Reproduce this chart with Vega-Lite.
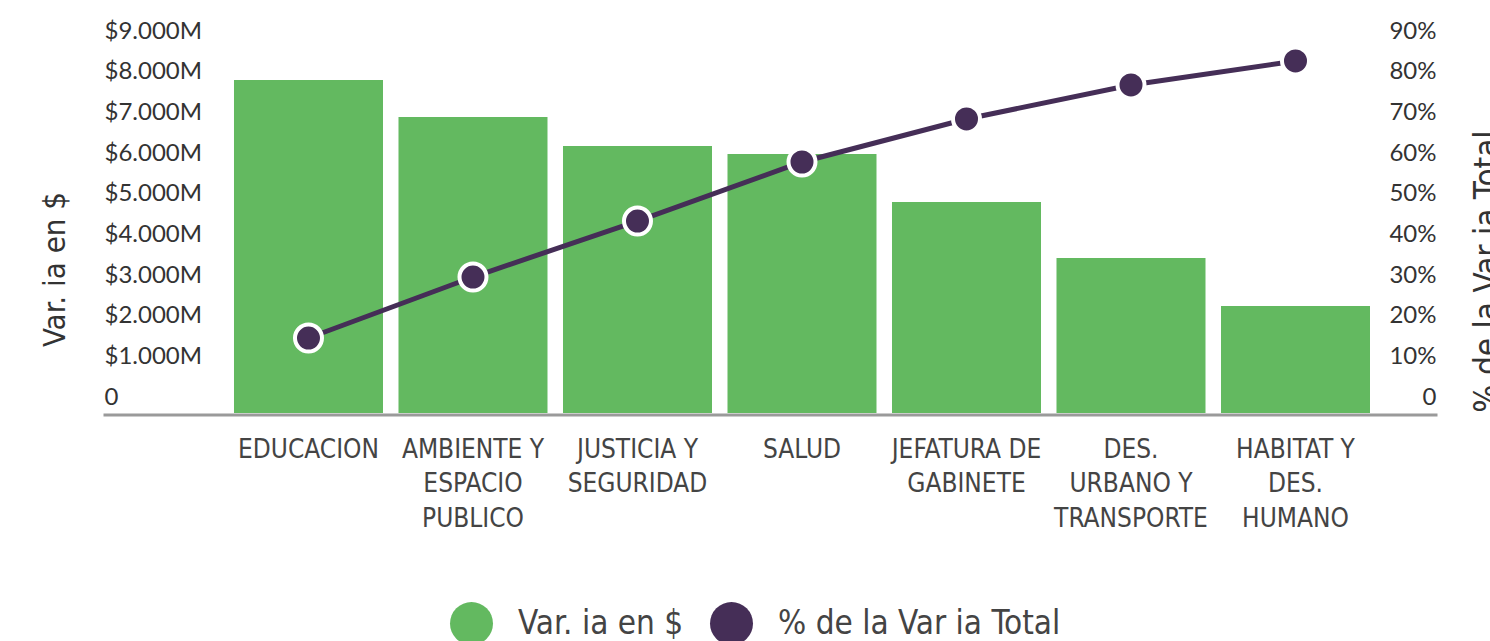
{
  "$schema": "https://vega.github.io/schema/vega-lite/v6.json",
  "width": 1334,
  "height": 366,
  "autosize": {"type": "none"},
  "padding": {"left": 103, "top": 47, "right": 53, "bottom": 228},
  "background": "white",
  "config": {"view": {"stroke": null}, "axis": {"grid": false}},
  "data": {
    "values": [
      {"area": "EDUCACION", "monto": 8188, "acum": 0.1844},
      {"area": "AMBIENTE Y\nESPACIO\nPUBLICO", "monto": 7279, "acum": 0.3344},
      {"area": "JUSTICIA Y\nSEGURIDAD", "monto": 6566, "acum": 0.4721},
      {"area": "SALUD", "monto": 6369, "acum": 0.6172},
      {"area": "JEFATURA DE\nGABINETE", "monto": 5189, "acum": 0.7230},
      {"area": "DES.\nURBANO Y\nTRANSPORTE", "monto": 3811, "acum": 0.8066},
      {"area": "HABITAT Y\nDES.\nHUMANO", "monto": 2631, "acum": 0.8656}
    ]
  },
  "encoding": {
    "x": {
      "field": "area",
      "type": "nominal",
      "sort": null,
      "scale": {"paddingInner": 0.0942, "paddingOuter": 0.6018, "align": 0.6616, "round": false},
      "axis": {
        "title": null,
        "orient": "bottom",
        "ticks": false,
        "tickSize": 0,
        "domain": true,
        "domainColor": "#9a9a9a",
        "domainWidth": 3,
        "offset": 1.5,
        "labelAngle": 0,
        "labelPadding": 42.5,
        "labelBaseline": "alphabetic",
        "labelFont": "DejaVu Sans Condensed",
        "labelFontSize": 26,
        "labelColor": "#444444",
        "labelLineHeight": 34.5,
        "labelLimit": 0,
        "labelExpr": "split(datum.label, '\\n')"
      }
    }
  },
  "layer": [
    {
      "mark": {"type": "bar", "color": "#63B960"},
      "encoding": {
        "y": {
          "field": "monto",
          "type": "quantitative",
          "scale": {"domain": [0, 9000], "nice": false, "zero": true},
          "axis": {
            "orient": "left",
            "title": "Var. ia en $",
            "ticks": false,
            "tickSize": 0,
            "domain": false,
            "values": [0, 1000, 2000, 3000, 4000, 5000, 6000, 7000, 8000, 9000],
            "labelExpr": "datum.value == 0 ? '0' : '$' + replace(format(datum.value, ','), ',', '.') + 'M'",
            "labelAlign": "left",
            "labelPadding": -1,
            "labelBaseline": "alphabetic",
            "labelOffset": -9,
            "labelFont": "Lato",
            "labelFontSize": 24,
            "labelColor": "#333333",
            "labelOverlap": false,
            "titleFont": "DejaVu Sans Condensed",
            "titleFontSize": 31,
            "titleFontWeight": "normal",
            "titleColor": "#333333",
            "titleAngle": 270,
            "titleAlign": "center",
            "titleBaseline": "alphabetic",
            "titleX": -39,
            "titleY": 222
          }
        },
        "color": {
          "datum": "Var. ia en $",
          "scale": {"domain": ["Var. ia en $", "% de la Var ia Total"], "range": ["#63B960", "#452E57"]},
          "legend": {
            "title": null,
            "orient": "none",
            "direction": "horizontal",
            "legendX": 347,
            "legendY": 555,
            "symbolType": "circle",
            "symbolSize": 1849,
            "symbolStrokeWidth": 0,
            "symbolOpacity": 1,
            "labelFont": "DejaVu Sans Condensed",
            "labelFontSize": 33,
            "labelColor": "#444444",
            "labelOffset": 25,
            "labelLimit": 0,
            "columnPadding": 26,
            "padding": 0
          }
        }
      }
    },
    {
      "encoding": {
        "y": {
          "field": "acum",
          "type": "quantitative",
          "scale": {"domain": [0, 0.9], "nice": false, "zero": true},
          "axis": {
            "orient": "right",
            "title": "% de la Var ia Total",
            "ticks": false,
            "tickSize": 0,
            "domain": false,
            "values": [0, 0.1, 0.2, 0.3, 0.4, 0.5, 0.6, 0.7, 0.8, 0.9],
            "labelExpr": "datum.value == 0 ? '0' : format(datum.value, '.0%')",
            "labelAlign": "right",
            "labelPadding": -1,
            "labelBaseline": "alphabetic",
            "labelOffset": -9,
            "labelFont": "Lato",
            "labelFontSize": 24,
            "labelColor": "#333333",
            "labelOverlap": false,
            "titleFont": "DejaVu Sans Condensed",
            "titleFontSize": 33,
            "titleFontWeight": "normal",
            "titleColor": "#333333",
            "titleAngle": 270,
            "titleAlign": "center",
            "titleBaseline": "alphabetic",
            "titleX": 60,
            "titleY": 224
          }
        }
      },
      "layer": [
        {"mark": {"type": "line", "color": "#452E57", "strokeWidth": 5}},
        {"mark": {"type": "circle", "size": 729, "color": "#452E57", "opacity": 1, "stroke": "white", "strokeWidth": 4}}
      ]
    }
  ],
  "resolve": {"scale": {"y": "independent"}}
}
